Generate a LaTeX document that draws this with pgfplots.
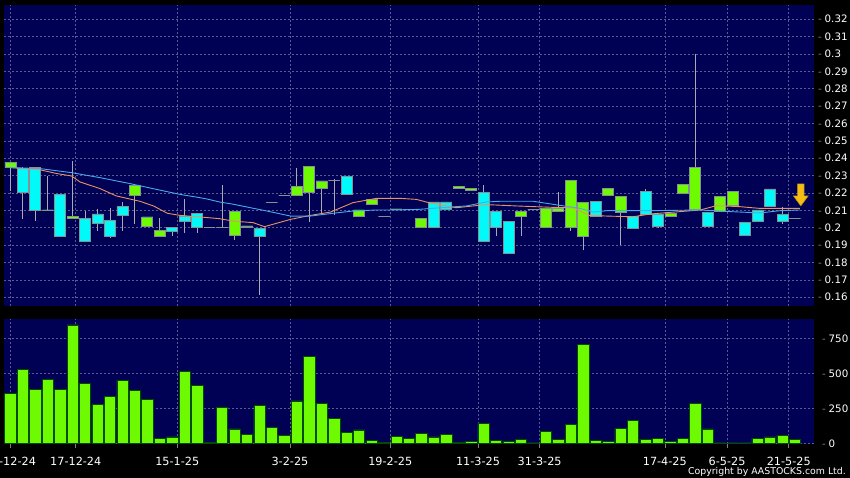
\documentclass[border=0pt]{standalone}
\usepackage{pgfplots}
\pgfplotsset{compat=1.18}
\usepackage{pgfplotstable}
\usepackage{fontspec}
\setmainfont{DejaVu Sans}
\definecolor{navy}{RGB}{0,0,84}
\definecolor{gridc}{RGB}{90,90,145}
\definecolor{upg}{RGB}{110,250,0}
\definecolor{dnc}{RGB}{0,250,250}
\definecolor{wick}{RGB}{170,170,175}
\definecolor{bord}{RGB}{135,145,145}
\definecolor{maor}{RGB}{235,145,100}
\definecolor{mabl}{RGB}{70,170,235}
\definecolor{arr}{RGB}{245,190,20}
\newcommand\tdash{\makebox[6.5bp][l]{\textcolor{gray}{-}}}

\pgfplotstableread{
i o h l c v
0 0.2346 0.2375 0.2210 0.2375 360
1 0.2340 0.2350 0.2048 0.2202 533
2 0.2346 0.2350 0.2038 0.2102 390
3 0.2102 0.2298 0.2102 0.2102 462
4 0.2190 0.2190 0.1952 0.1952 390
5 0.2052 0.2385 0.2050 0.2063 848
6 0.2052 0.2096 0.1919 0.1919 431
7 0.2079 0.2106 0.1981 0.2023 279
8 0.2040 0.2112 0.1940 0.1952 336
9 0.2121 0.2148 0.1981 0.2069 455
10 0.2188 0.2244 0.2019 0.2244 383
11 0.2010 0.2062 0.2010 0.2062 319
12 0.1952 0.2056 0.1952 0.1983 40
13 0.2000 0.2000 0.1952 0.1981 48
14 0.2067 0.2163 0.1967 0.2035 519
15 0.2081 0.2081 0.1967 0.2000 414
16 0.2000 0.2000 0.2000 0.2000 7
17 0.2000 0.2244 0.2000 0.2000 262
18 0.1958 0.2092 0.1929 0.2092 105
19 0.2000 0.2010 0.2000 0.2010 64
20 0.1994 0.1994 0.1615 0.1952 271
21 0.2144 0.2144 0.2144 0.2144 119
22 0.2185 0.2185 0.2185 0.2185 57
23 0.2185 0.2346 0.2185 0.2240 305
24 0.2202 0.2352 0.2033 0.2352 621
25 0.2225 0.2269 0.2071 0.2269 288
26 0.2273 0.2283 0.2071 0.2273 183
27 0.2294 0.2294 0.2190 0.2190 81
28 0.2063 0.2102 0.2063 0.2102 98
29 0.2133 0.2162 0.2133 0.2162 24
30 0.2063 0.2063 0.2063 0.2063 7
31 0.2108 0.2108 0.2108 0.2108 50
32 0.2106 0.2106 0.2106 0.2106 40
33 0.2000 0.2052 0.2000 0.2052 74
34 0.2148 0.2148 0.2000 0.2000 48
35 0.2148 0.2148 0.2106 0.2106 64
36 0.2225 0.2240 0.2225 0.2240 7
37 0.2212 0.2225 0.2212 0.2225 17
38 0.2202 0.2244 0.1919 0.1919 145
39 0.2092 0.2092 0.1952 0.2000 26
40 0.2035 0.2035 0.1852 0.1852 17
41 0.2063 0.2092 0.1952 0.2092 33
42 0.2106 0.2106 0.2106 0.2106 5
43 0.2000 0.2112 0.2000 0.2112 88
44 0.2092 0.2206 0.2092 0.2112 33
45 0.2000 0.2271 0.1981 0.2271 138
46 0.1952 0.2150 0.1871 0.2146 710
47 0.2150 0.2150 0.2063 0.2063 26
48 0.2185 0.2226 0.2185 0.2226 19
49 0.2088 0.2179 0.1900 0.2179 112
50 0.2063 0.2063 0.1996 0.1996 169
51 0.2207 0.2221 0.2079 0.2079 33
52 0.2079 0.2079 0.1996 0.2010 40
53 0.2067 0.2083 0.2067 0.2083 19
54 0.2198 0.2250 0.2198 0.2250 40
55 0.2106 0.3000 0.2106 0.2347 288
56 0.2088 0.2088 0.2010 0.2010 105
57 0.2092 0.2179 0.2092 0.2179 5
58 0.2131 0.2207 0.2131 0.2207 5
59 0.2029 0.2029 0.1958 0.1958 5
60 0.2102 0.2102 0.2038 0.2038 40
61 0.2223 0.2223 0.2121 0.2121 48
62 0.2077 0.2121 0.2021 0.2038 57
63 0.2055 0.2055 0.2055 0.2055 33
}\candles

\begin{document}
\begin{tikzpicture}
\useasboundingbox (0bp,0bp) rectangle (850bp,478bp);
\fill[black] (0bp,0bp) rectangle (850bp,478bp);
\clip (0bp,0bp) rectangle (850bp,478bp);
\pgfplotsset{
  panel/.style={
    anchor=south west, scale only axis, width=810bp,
    xmin=-0.514, xmax=64.53,
    axis background/.style={fill=navy},
    axis line style={draw=none},
    xtick={0.0,5.25,13.4,22.45,30.5,37.55,42.5,52.55,57.55,62.5},
    grid=major, grid style={gridc, dash pattern=on 2bp off 2bp, line width=0.6bp},
    yticklabel pos=right,
    yticklabel style={anchor=west, inner sep=0pt, xshift=4bp, font=\fontsize{10.3}{12}\selectfont, text=white},
    ytick style={draw=none},
  }
}
% price panel
\begin{axis}[panel, at={(4bp,171.5bp)}, height=301.5bp,
  ymin=0.15465, ymax=0.32818,
  xticklabels={}, xtick style={draw=none},
  ytick={0.16,0.17,0.18,0.19,0.2,0.21,0.22,0.23,0.24,0.25,0.26,0.27,0.28,0.29,0.3,0.31,0.32},
  yticklabels={\tdash0.16,\tdash0.17,\tdash0.18,\tdash0.19,\tdash0.2,\tdash0.21,\tdash0.22,\tdash0.23,\tdash0.24,\tdash0.25,\tdash0.26,\tdash0.27,\tdash0.28,\tdash0.29,\tdash0.3,\tdash0.31,\tdash0.32},
]
% wicks
\addplot[draw=none, mark=none, forget plot,
  error bars/.cd, y dir=both, y explicit, error mark=none,
  error bar style={draw=wick, line width=0.9bp}]
  table[x=i, y=h, y error plus expr=0, y error minus expr=\thisrow{h}-\thisrow{l}] {\candles};
% candle bodies (stacked: invisible base, up body, down body)
\addplot[ybar, bar shift=0pt, bar width=11bp, stack plots=y, draw=none, fill=none]
  table[x=i, y expr={min(\thisrow{o},\thisrow{c})}] {\candles};
\addplot[ybar, bar shift=0pt, bar width=11bp, stack plots=y, fill=upg, draw=bord, line width=0.8bp]
  table[x=i, y expr={max(\thisrow{c}-\thisrow{o},0)}] {\candles};
\addplot[ybar, bar shift=0pt, bar width=11bp, stack plots=y, fill=dnc, draw=bord, line width=0.8bp]
  table[x=i, y expr={max(\thisrow{o}-\thisrow{c},0)}] {\candles};
% moving averages
\addplot[maor, line width=0.9bp] coordinates {
(0,0.2346) (2.4,0.2333) (3.7,0.2312) (4.9,0.2298) (5.6,0.2263) (7.2,0.2225) (8.5,0.2183)
(10.4,0.2152) (11.5,0.2125) (12.6,0.2083) (13.6,0.2071) (15.2,0.2062) (16.8,0.2052)
(17.9,0.2038) (19.5,0.2029) (20.4,0.2006) (22.5,0.2048) (24.1,0.2071) (25.7,0.2090)
(27.5,0.2144) (29.4,0.2169) (31.3,0.2169) (32.6,0.2163) (33.6,0.2144) (35.8,0.2115)
(38.2,0.2133) (40.7,0.2125) (43.6,0.2117) (45.2,0.2115) (46.5,0.2071) (47.9,0.2067)
(50,0.2063) (51.4,0.2079) (55.4,0.2102) (56.7,0.2127) (58.6,0.2121) (60.2,0.2111) (63.4,0.2111)};
\addplot[mabl, line width=0.9bp] coordinates {
(0,0.2346) (2.4,0.2340) (4.9,0.2317) (7.2,0.2288) (9.6,0.2254) (11.7,0.2221) (13.6,0.2192)
(15.2,0.2173) (15.8,0.2165) (16.8,0.2148) (17.9,0.2135) (20.6,0.2096) (22.5,0.2067)
(24.1,0.2067) (25.9,0.2083) (27.5,0.2096) (29.4,0.2102) (31.3,0.2102) (32.9,0.2106)
(34.5,0.2115) (36.6,0.2125) (38.2,0.2148) (39.3,0.2152) (42,0.2152) (43.9,0.2131)
(45.7,0.2112) (46.8,0.2090) (47.9,0.2098) (51.4,0.2098) (55.4,0.2102) (58,0.2092)
(60.2,0.2085) (61.8,0.2098) (63.4,0.2102)};
% last-price arrow
\addplot[fill=arr, draw=arr!70!black, line width=0.5bp] coordinates {
(63.2,0.2252) (63.74,0.2252) (63.74,0.2183) (64.07,0.2183) (63.47,0.2125)
(62.87,0.2183) (63.2,0.2183) (63.2,0.2252)};
\end{axis}
% volume panel
\begin{axis}[panel, at={(4bp,33.7bp)}, height=125.3bp,
  ymin=-4.3, ymax=890.7,
  ytick={0,250,500,750},
  yticklabels={\tdash0,\tdash250,\tdash500,\tdash750},
  xticklabels={10-12-24,17-12-24,15-1-25,3-2-25,19-2-25,11-3-25,31-3-25,17-4-25,6-5-25,21-5-25},
  xticklabel style={font=\fontsize{11.3}{13}\selectfont, text=white, anchor=base, inner sep=0pt, yshift=-17.4bp},
  xtick style={draw=gray, line width=0.6bp}, tick align=outside, major tick length=4bp, xtick pos=bottom,
]
\addplot[ybar, bar shift=0pt, bar width=11.3bp, fill=upg, draw=green!30!black, line width=0.6bp]
  table[x=i, y=v] {\candles};
\end{axis}
\node[anchor=east, text=white, inner sep=0pt, font=\fontsize{9.4}{11}\selectfont] at (846bp,6bp) {Copyright by AASTOCKS.com Ltd.};
\end{tikzpicture}
\end{document}
